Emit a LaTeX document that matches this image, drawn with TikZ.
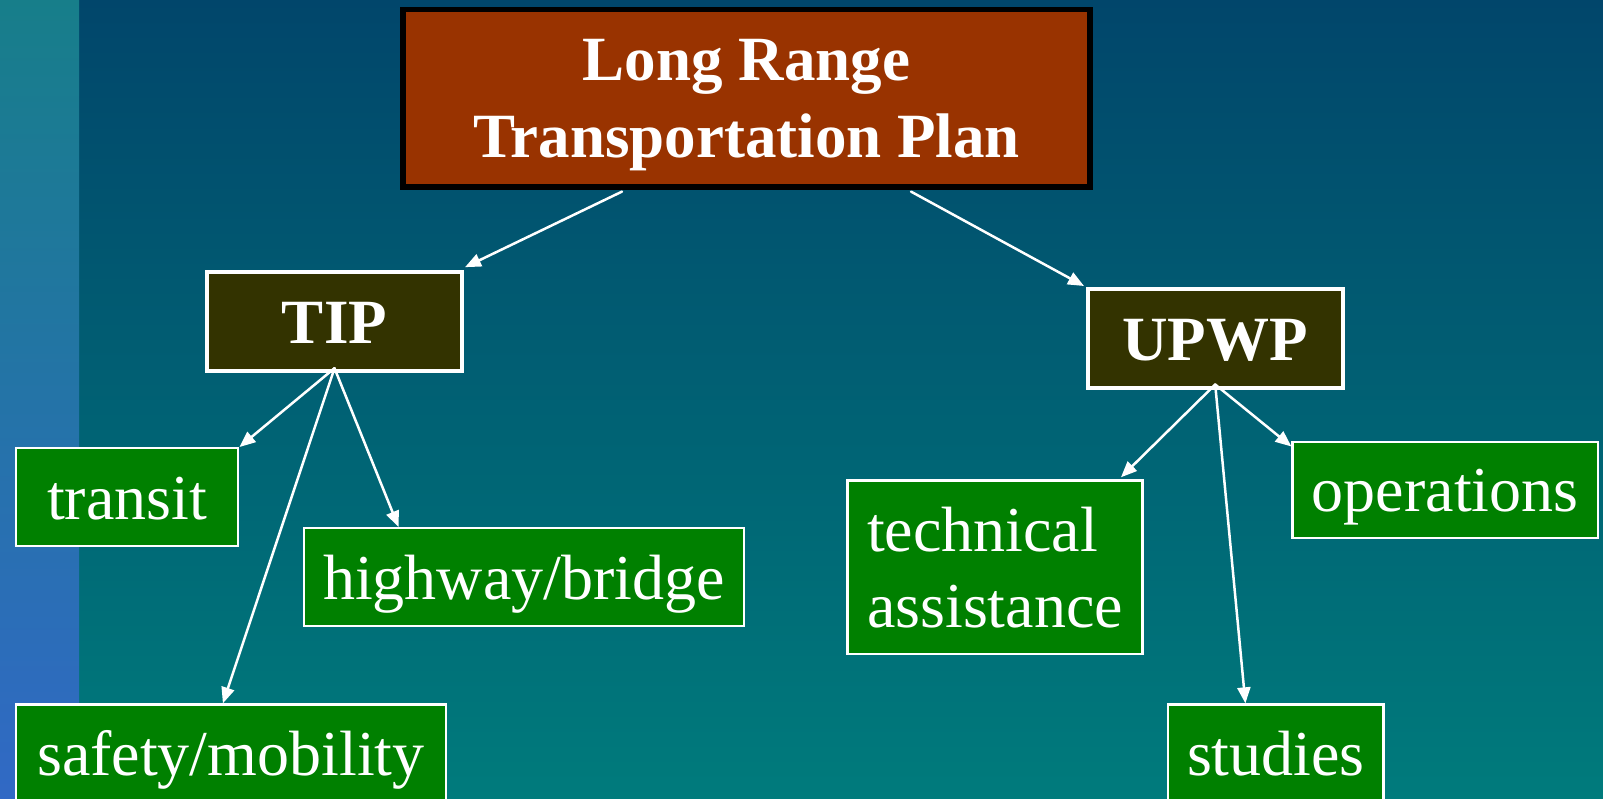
\documentclass[tikz,border=0pt]{standalone}
\usepackage{fontspec}
\setmainfont{Liberation Serif}
\usetikzlibrary{positioning,arrows.meta}

\definecolor{rustred}{HTML}{993300}
\definecolor{olivebox}{HTML}{333300}
\definecolor{leafgreen}{HTML}{008000}
\definecolor{bgtop}{HTML}{01466B}
\definecolor{bgbot}{HTML}{007B7C}
\definecolor{striptop}{HTML}{177E8A}
\definecolor{stripbot}{HTML}{3169C5}

\begin{document}
\begin{tikzpicture}[x=1pt,y=-1pt,
  every node/.style={rectangle,inner sep=0pt,text=white},
  oneline/.style={text height=44pt,text depth=0pt},
  planbox/.style={draw=black,line width=5.5pt,fill=rustred,align=center,
    font=\fontsize{63}{76.5}\selectfont\bfseries,text height=118.5pt,text depth=0pt},
  progbox/.style={oneline,draw=white,line width=4pt,fill=olivebox,
    font=\fontsize{63}{76}\selectfont\bfseries,minimum width=255pt,minimum height=99pt},
  itembox/.style={oneline,draw=white,line width=2.4pt,fill=leafgreen,
    font=\fontsize{64}{76}\selectfont,minimum height=97.5pt},
  arr/.style={draw=white,line width=2.5pt,line cap=round,-{Triangle[length=16pt,width=13pt]}}]
\def\W{1603}
\def\H{799}
\def\stripw{79}

\useasboundingbox (0,0) rectangle (\W,\H);
\clip (0,0) rectangle (\W,\H);
\shade[top color=bgtop,bottom color=bgbot] (0,0) rectangle (\W,\H);
\shade[top color=striptop,bottom color=stripbot] (0,0) rectangle (\stripw,\H);

\node[planbox,minimum width=687pt,minimum height=177.3pt] (lrtp) at (746.5,98.2) {Long Range\\Transportation Plan};
\node[progbox] (tip) at (334.5,321.7) {TIP};
\node[progbox] (upwp) at (1215.2,338.5) {UPWP};

\node[itembox,minimum width=222.2pt] (transit) at (127.1,497) {transit};
\node[itembox,minimum width=440.3pt] (hwy) at (523.9,577) {highway/bridge};
\node[itembox,minimum width=429.7pt] (safety) at (230.9,753.3) {safety/mobility};
\node[itembox,minimum width=294.7pt,minimum height=173.6pt,align=left,text height=120pt,text depth=0pt] (tech) at (995,567.3) {technical\\assistance};
\node[itembox,minimum width=305.2pt,minimum height=96pt] (ops) at (1445.2,489.7) {operations};
\node[itembox,minimum width=215.4pt] (studies) at (1275.9,753.3) {studies};

\coordinate (lrtpL) at ([xshift=-124.5pt,yshift=-2pt]lrtp.south);
\coordinate (lrtpR) at ([xshift=164.5pt,yshift=-2pt]lrtp.south);
\coordinate (tipNE) at ([shift={(1pt,3pt)}]tip.north east);
\coordinate (upwpNW) at ([shift={(-1.7pt,1pt)}]upwp.north west);
\coordinate (tipS) at ([yshift=5pt]tip.south);
\coordinate (upwpS) at ([yshift=5.5pt]upwp.south);
\coordinate (hwyN) at ([xshift=96pt]hwy.north west);
\coordinate (safetyN) at ([xshift=-8pt]safety.north);
\coordinate (techN) at ([shift={(-22.6pt,2pt)}]tech.north east);
\coordinate (opsW) at ([yshift=-6pt]ops.north west);
\coordinate (studiesN) at ([xshift=-30.5pt]studies.north);

\foreach \s/\t in {lrtpL/tipNE,lrtpR/upwpNW,tipS/transit.north east,tipS/hwyN,tipS/safetyN,upwpS/techN,upwpS/opsW,upwpS/studiesN}
	\draw[arr] (\s) -- (\t);

\end{tikzpicture}
\end{document}
